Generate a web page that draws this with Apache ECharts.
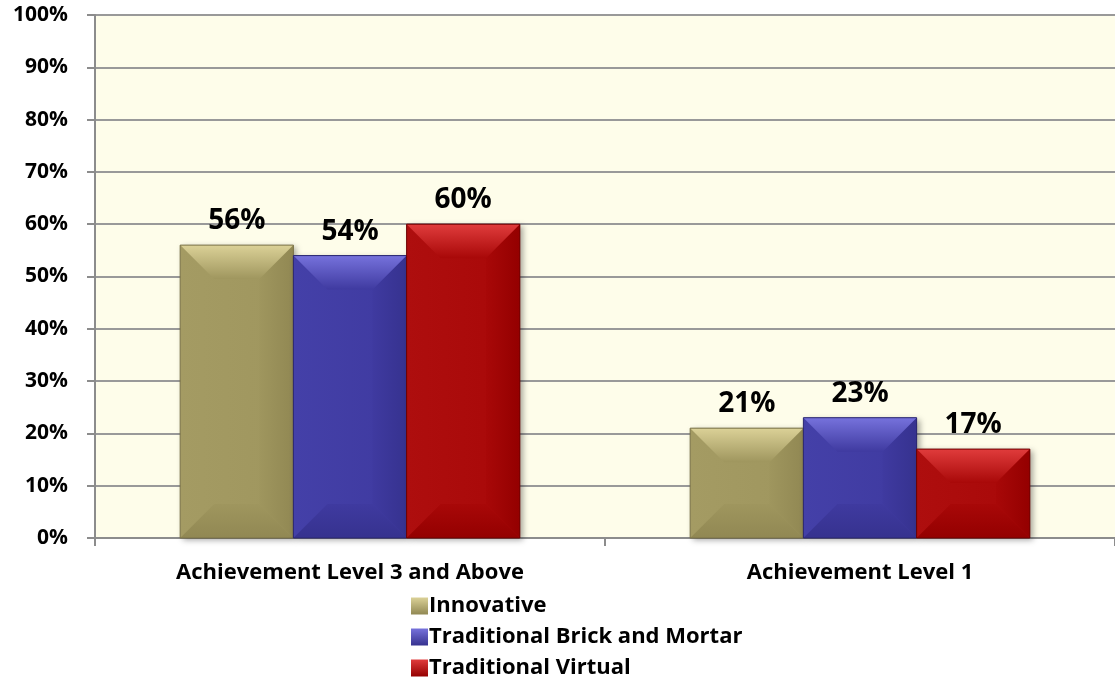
<!DOCTYPE html>
<html>
<head>
<meta charset="utf-8">
<script src="https://cdn.jsdelivr.net/npm/echarts@6/dist/echarts.min.js"></script>
<style>
  html, body { margin: 0; padding: 0; background: #ffffff; }
  #chart { width: 1115px; height: 680px; }
</style>
</head>
<body>
<div id="chart"></div>
<script>
// 数据
var categories = ['Achievement Level 3 and Above', 'Achievement Level 1'];
var seriesNames = ['Innovative', 'Traditional Brick and Mortar', 'Traditional Virtual'];
var innovative = [56, 21];
var brickMortar = [54, 23];
var virtualSchool = [60, 17];

var FONT = '"Open Sans", "DejaVu Sans", sans-serif';

// 每个系列的斜面配色
var palettes = [
  { light: '#dbd197', side: '#a49b63', base: '#9f965e', dark: '#918853', edge: '#7a7248' },
  { light: '#7672dc', side: '#4440a8', base: '#3f3aa0', dark: '#36328f', edge: '#2a2670' },
  { light: '#e03c3c', side: '#ae0e0e', base: '#a80808', dark: '#940000', edge: '#6e0000' }
];

function grad(x0, y0, x1, y1, c0, c1) {
  return new echarts.graphic.LinearGradient(x0, y0, x1, y1, [
    { offset: 0, color: c0 }, { offset: 1, color: c1 }
  ]);
}

function makeRender(idx) {
  var p = palettes[idx];
  return function (params, api) {
    var cat = api.value(0);
    var val = api.value(1);
    var base = api.coord([cat, 0]);
    var top = api.coord([cat, val]);
    var band = api.size([1, 0])[0];
    var bw = band * 0.222;
    var cx = base[0] + (idx - 1) * bw;
    var x0 = cx - bw / 2, x1 = cx + bw / 2;
    var y0 = top[1], y1 = base[1];
    var d = Math.min(34, (y1 - y0) / 2, bw / 2);
    return {
      type: 'group',
      children: [
        { type: 'rect', shape: { x: x0, y: y0, width: bw, height: y1 - y0 },
          style: { fill: grad(0, 0, 1, 0, p.side, p.base),
                   shadowColor: 'rgba(0,0,0,0.35)', shadowBlur: 6, shadowOffsetX: 3, shadowOffsetY: 2 } },
        { type: 'polygon', shape: { points: [[x1, y0], [x1 - d, y0 + d], [x1 - d, y1 - d], [x1, y1]] },
          style: { fill: grad(0, 0, 1, 0, p.base, p.dark) } },
        { type: 'polygon', shape: { points: [[x0, y0], [x1, y0], [x1 - d, y0 + d], [x0 + d, y0 + d]] },
          style: { fill: grad(0, 0, 0, 1, p.light, p.base) } },
        { type: 'polygon', shape: { points: [[x0, y1], [x1, y1], [x1 - d, y1 - d], [x0 + d, y1 - d]] },
          style: { fill: grad(0, 0, 0, 1, p.base, p.dark) } },
        { type: 'rect', shape: { x: x0, y: y0, width: bw, height: y1 - y0 },
          style: { fill: 'none', stroke: p.edge, lineWidth: 1 } },
        { type: 'text',
          style: { text: val + '%', x: cx, y: y0 - 10, align: 'center', verticalAlign: 'bottom',
                   font: 'bold 28px ' + FONT, fill: '#000000' } }
      ]
    };
  };
}

var allData = [innovative, brickMortar, virtualSchool];
var series = allData.map(function (arr, i) {
  return {
    name: seriesNames[i],
    type: 'custom',
    renderItem: makeRender(i),
    encode: { x: 0, y: 1 },
    itemStyle: { color: grad(0, 0, 0, 1, palettes[i].light, palettes[i].dark) },
    data: arr.map(function (v, k) { return [k, v]; })
  };
});

var chart = echarts.init(document.getElementById('chart'));
var option = {
  animation: false,
  grid: {
    left: 95, right: 0, top: 15, bottom: 142,
    show: true, backgroundColor: '#fefdea', borderWidth: 0
  },
  legend: {
    orient: 'vertical',
    left: 411, top: 595, height: 85,
    padding: 0,
    icon: 'rect',
    itemWidth: 17, itemHeight: 17,
    itemGap: 9,
    textStyle: { fontFamily: FONT, fontWeight: 'bold', fontSize: 22, lineHeight: 22, color: '#000', padding: [0, 0, 0, -4] },
    data: seriesNames
  },
  xAxis: {
    type: 'category',
    data: categories,
    axisLine: { lineStyle: { color: '#8c8c8c', width: 2 } },
    axisTick: { show: true, length: 8, lineStyle: { color: '#8c8c8c', width: 2 } },
    axisLabel: { fontFamily: FONT, fontWeight: 'bold', fontSize: 22, color: '#000', margin: 24 }
  },
  yAxis: {
    type: 'value',
    min: 0, max: 100, interval: 10,
    axisLine: { show: true, lineStyle: { color: '#8c8c8c', width: 2 } },
    axisTick: { show: true, length: 8, lineStyle: { color: '#8c8c8c', width: 2 } },
    axisLabel: { formatter: '{value}%', fontFamily: FONT, fontWeight: 'bold', fontSize: 21, color: '#000', margin: 27 },
    splitLine: { show: true, lineStyle: { color: '#999999', width: 2 } }
  },
  series: series
};
chart.setOption(option);
</script>
</body>
</html>
